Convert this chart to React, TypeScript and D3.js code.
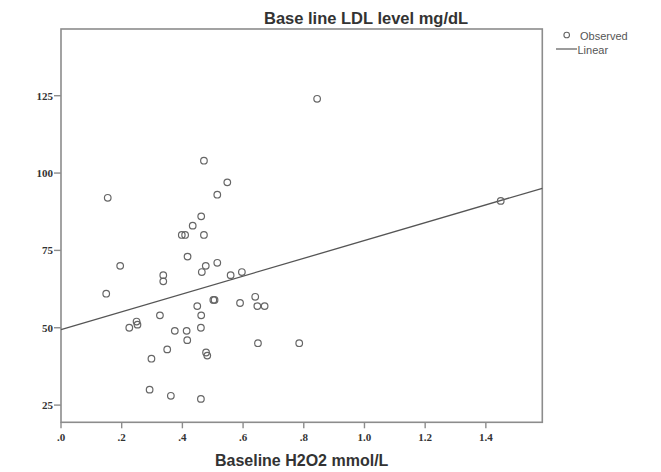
import React from "react";
import * as d3 from "d3";

// Observed data (Baseline H2O2 mmol/L, Base line LDL level mg/dL)
const h2o2: number[] = [
  0.154, 0.471, 0.548, 0.515, 0.462, 0.434, 0.398, 0.409, 0.471, 0.417,
  0.195, 0.477, 0.515, 0.464, 0.337, 0.337, 0.559, 0.596, 0.149, 0.449,
  0.502, 0.506, 0.590, 0.640, 0.647, 0.671, 0.326, 0.462, 0.249, 0.252,
  0.225, 0.375, 0.414, 0.461, 0.416, 0.350, 0.298, 0.478, 0.482, 0.649,
  0.785, 0.292, 0.362, 0.461, 0.844, 1.449,
];
const ldl: number[] = [
  92, 104, 97, 93, 86, 83, 80, 80, 80, 73,
  70, 70, 71, 68, 67, 65, 67, 68, 61, 57,
  59, 59, 58, 60, 57, 57, 54, 54, 52, 51,
  50, 49, 49, 50, 46, 43, 40, 42, 41, 45,
  45, 30, 28, 27, 124, 91,
];

// Linear fit
const fitIntercept = 49.4;
const fitSlope = 28.8;

const xTicks = [0, 0.2, 0.4, 0.6, 0.8, 1.0, 1.2, 1.4];
const yTicks = [25, 50, 75, 100, 125];
const xDomain: [number, number] = [0, 1.586];
const yDomain: [number, number] = [19.44, 146.56];

const titleText = "Base line LDL level mg/dL";
const xLabel = "Baseline H2O2 mmol/L";
const legendItems = ["Observed", "Linear"];

export default function App() {
  const left = 61, right = 542.3, top = 29, bottom = 422.3;
  const x = d3.scaleLinear().domain(xDomain).range([left, right]);
  const y = d3.scaleLinear().domain(yDomain).range([bottom, top]);
  const fmtX = (d: number) => {
    const s = d3.format(".1f")(d);
    return d < 1 ? s.replace(/^0/, "") : s;
  };
  const lineGen = d3
    .line<number>()
    .x((d) => x(d))
    .y((d) => y(fitIntercept + fitSlope * d));
  const axisColor = "#8c8c8c";
  const serif = "'Liberation Serif', 'Times New Roman', serif";
  const sans = "'Liberation Sans', Arial, sans-serif";
  return (
    <svg
      width={661}
      height={472}
      style={{ position: "absolute", left: 0, top: 0, background: "#fff" }}
    >
      <rect x={0} y={0} width={661} height={472} fill="#fff" />
      {/* title */}
      <text
        x={264}
        y={24}
        fontFamily={sans}
        fontWeight="bold"
        fontSize={16.5}
        fill="#333"
      >
        {titleText}
      </text>
      {/* frame */}
      <rect
        x={left}
        y={top}
        width={right - left}
        height={bottom - top}
        fill="none"
        stroke={axisColor}
        strokeWidth={1.6}
      />
      {/* x ticks */}
      {xTicks.map((t) => (
        <g key={"xt" + t}>
          <line x1={x(t)} x2={x(t)} y1={bottom} y2={bottom + 6} stroke={axisColor} strokeWidth={1.4} />
          <text
            x={x(t)}
            y={440.5}
            textAnchor="middle"
            fontFamily={serif}
            fontWeight="bold"
            fontSize={11}
            fill="#333"
          >
            {fmtX(t)}
          </text>
        </g>
      ))}
      {/* y ticks */}
      {yTicks.map((t) => (
        <g key={"yt" + t}>
          <line x1={left - 7} x2={left} y1={y(t)} y2={y(t)} stroke={axisColor} strokeWidth={1.4} />
          <text
            x={left - 8}
            y={y(t)}
            dy="0.35em"
            textAnchor="end"
            fontFamily={serif}
            fontWeight="bold"
            fontSize={11}
            fill="#333"
          >
            {t}
          </text>
        </g>
      ))}
      {/* x label */}
      <text
        x={(left + right) / 2}
        y={466}
        textAnchor="middle"
        fontFamily={sans}
        fontWeight="bold"
        fontSize={16}
        fill="#333"
      >
        {xLabel}
      </text>
      {/* fit line */}
      <path d={lineGen(xDomain) || ""} fill="none" stroke="#555" strokeWidth={1.3} />
      {/* points */}
      {h2o2.map((v, i) => (
        <circle
          key={"p" + i}
          cx={x(v)}
          cy={y(ldl[i])}
          r={3.3}
          fill="none"
          stroke="#666"
          strokeWidth={1.2}
        />
      ))}
      {/* legend */}
      <circle cx={566.7} cy={35} r={2.8} fill="none" stroke="#666" strokeWidth={1.1} />
      <text x={580} y={39.5} fontFamily={sans} fontSize={11} fill="#555">
        {legendItems[0]}
      </text>
      <line x1={556} x2={577} y1={49} y2={49} stroke="#666" strokeWidth={1.3} />
      <text x={577.5} y={53.5} fontFamily={sans} fontSize={11} fill="#555">
        {legendItems[1]}
      </text>
    </svg>
  );
}
